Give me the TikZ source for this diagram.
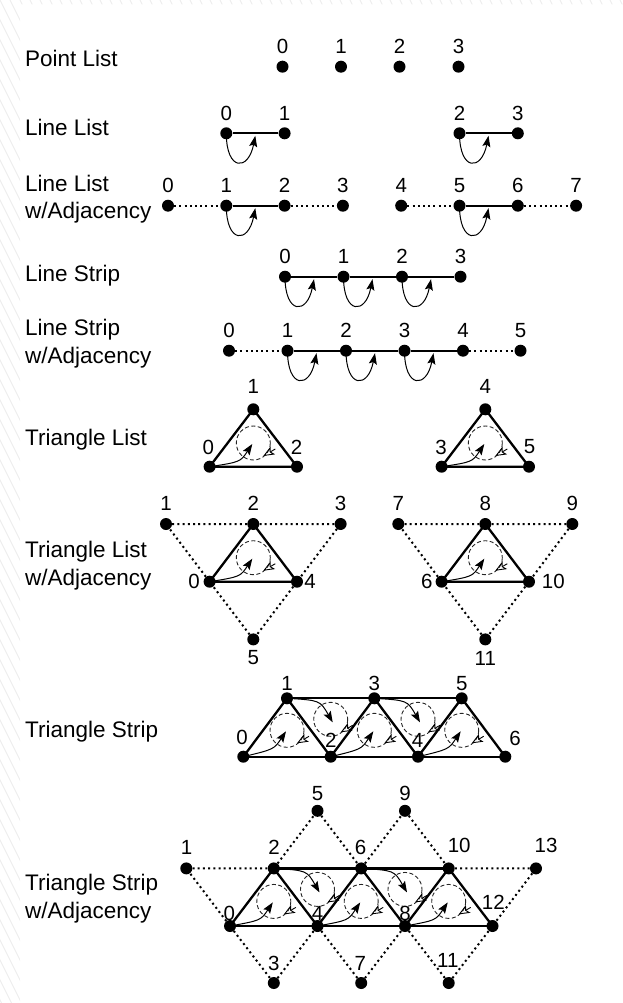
\documentclass[tikz,border=0pt]{standalone}
\usepackage{fontspec}
\setmainfont{Liberation Sans}
\usetikzlibrary{arrows.meta,calc}

\tikzset{
  vtx/.style={circle, fill=black, inner sep=0pt, minimum size=12pt},
  edge/.style={line width=2.3pt},
  adjedge/.style={line width=2pt, dash pattern=on 2pt off 3.2pt},
  looparrow/.style={line width=1pt, -{Stealth[length=11pt,width=8pt,inset=2pt]}},
  windarrow/.style={line width=1pt, -{Stealth[length=11pt,width=8pt,inset=2pt]}},
  windcircle/.style={line width=0.9pt, dash pattern=on 4pt off 2.5pt, black!85},
  windhead/.style={line width=0.9pt, -{Stealth[open,length=11pt,width=9pt,inset=2.5pt]}},
  num/.style={inner sep=0pt, font=\fontsize{20.5}{21}\selectfont},
  title/.style={inner sep=0pt, anchor=north west, align=left, font=\fontsize{22.5}{27.7}\selectfont},
  hatch/.style={line width=1pt, black!7},
}

% curved arrow looping under a line segment, starting at its first vertex
\newcommand\lineloop[1]{%
  \draw[looparrow] (#1.center) .. controls ($(#1)+(0,38)$) and ($(#1)+(22,38)$) .. ($(#1)+(29,2.5)$);}
% dashed winding circle with its open direction head
\newcommand\windring[1]{%
  \draw[windcircle] (#1) circle[radius=17];
  \draw[windhead] ($(#1)+(22,6)$) -- ($(#1)+(10,13)$);}
% winding marker for a triangle whose first vertex is bottom left
\newcommand\lowwind[2]{%
  \windring{#1}
  \draw[windarrow] (#2.center) .. controls ($(#1)+(-13,19)$) .. ($(#1)+(-1,1)$);}
% winding marker for a triangle whose first vertex is top left
\newcommand\upwind[2]{%
  \windring{#1}
  \draw[windarrow] (#2.center) .. controls ($(#2)+(33,2)$) .. ($(#1)+(2,3)$);}

\begin{document}
\begin{tikzpicture}[x=1pt,y=-1pt]
\useasboundingbox (0,0) rectangle (623,1003);

% hatched page edge
\begin{scope}
  \clip (0,0) rectangle (20,1003) (0,0) rectangle (623,4.5);
  \foreach \i in {-520,-510,...,640} \draw[hatch] (\i,0) -- ++(520,1040);
\end{scope}

% row titles
\node[title] (tPL)  at (25,50.3)  {Point List};
\node[title] (tLL)  at (25,118.7) {Line List};
\node[title] (tLLA) at (25,174.5) {Line List\\w/Adjacency};
\node[title] (tLS)  at (25,264.5) {Line Strip};
\node[title] (tLSA) at (25,318.8) {Line Strip\\w/Adjacency};
\node[title] (tTL)  at (25,428.7) {Triangle List};
\node[title] (tTLA) at (25,541)   {Triangle List\\w/Adjacency};
\node[title] (tTS)  at (25,721)   {Triangle Strip};
\node[title] (tTSA) at (25,874)   {Triangle Strip\\w/Adjacency};

% ---------- point list
\foreach \n/\x in {0/282.5,1/341,2/399.5,3/458.5} {
  \node[vtx] (P\n) at (\x,66.7) {};
  \node[num] (P\n-l) at (\x,46.5) {\n};
}

% ---------- line list
\foreach \n/\x in {0/226.3,1/284.6,2/459.5,3/517.8} {
  \node[vtx] (L\n) at (\x,133.3) {};
  \node[num] (L\n-l) at (\x,113) {\n};
}
\draw[edge] (L0) -- (L1);
\draw[edge] (L2) -- (L3);
\lineloop{L0}
\lineloop{L2}

% ---------- line list with adjacency
\foreach \n/\x in {0/168,1/226.3,2/284.6,3/342.9,4/401.2,5/459.5,6/517.8,7/576.1} {
  \node[vtx] (A\n) at (\x,205.7) {};
  \node[num] (A\n-l) at (\x,185.2) {\n};
}
\draw[adjedge] (A0) -- (A1);
\draw[edge] (A1) -- (A2);
\draw[adjedge] (A2) -- (A3);
\draw[adjedge] (A4) -- (A5);
\draw[edge] (A5) -- (A6);
\draw[adjedge] (A6) -- (A7);
\lineloop{A1}
\lineloop{A5}

% ---------- line strip
\foreach \n/\x in {0/285,1/343.5,2/402,3/460.5} {
  \node[vtx] (S\n) at (\x,276.7) {};
  \node[num] (S\n-l) at (\x,256.2) {\n};
}
\draw[edge] (S0) -- (S1) -- (S2) -- (S3);
\lineloop{S0}
\lineloop{S1}
\lineloop{S2}

% ---------- line strip with adjacency
\foreach \n/\x in {0/229,1/287.5,2/346,3/404.5,4/463,5/520.5} {
  \node[vtx] (B\n) at (\x,350.7) {};
  \node[num] (B\n-l) at (\x,330.2) {\n};
}
\draw[adjedge] (B0) -- (B1);
\draw[edge] (B1) -- (B2) -- (B3) -- (B4);
\draw[adjedge] (B4) -- (B5);
\lineloop{B1}
\lineloop{B2}
\lineloop{B3}

% ---------- triangle list
\node[vtx] (T0) at (209.6,466.7) {};
\node[vtx] (T1) at (253.3,409.3) {};
\node[vtx] (T2) at (297,466.7) {};
\node[vtx] (T3) at (441.6,466.7) {};
\node[vtx] (T4) at (485.3,409.3) {};
\node[vtx] (T5) at (529,466.7) {};
\draw[edge] (T0.center) -- (T1.center) -- (T2.center) -- cycle;
\draw[edge] (T3.center) -- (T4.center) -- (T5.center) -- cycle;
\coordinate (tc1) at ($(T1)+(0,33.7)$);
\coordinate (tc2) at ($(T4)+(0,33.7)$);
\lowwind{tc1}{T0}
\lowwind{tc2}{T3}
\node[num] (T1-l) at (253.3,386.7) {1};
\node[num] (T4-l) at (485.3,386.7) {4};
\node[num] (T0-l) at (208.3,447) {0};
\node[num] (T2-l) at (296.5,447) {2};
\node[num] (T3-l) at (441,447) {3};
\node[num] (T5-l) at (529.5,447) {5};

% ---------- triangle list with adjacency
\node[vtx] (Q0) at (209.6,581.7) {};
\node[vtx] (Q1) at (166,524) {};
\node[vtx] (Q2) at (253.3,524) {};
\node[vtx] (Q3) at (340.6,524) {};
\node[vtx] (Q4) at (297,581.7) {};
\node[vtx] (Q5) at (253.3,639.4) {};
\node[vtx] (Q6) at (441.6,581.7) {};
\node[vtx] (Q7) at (398.3,524) {};
\node[vtx] (Q8) at (485.3,524) {};
\node[vtx] (Q9) at (572.3,524) {};
\node[vtx] (Q10) at (529,581.7) {};
\node[vtx] (Q11) at (485.3,639.4) {};
\draw[adjedge] (Q1) -- (Q2) -- (Q3) -- (Q4) -- (Q5) -- (Q0) -- (Q1);
\draw[adjedge] (Q7) -- (Q8) -- (Q9) -- (Q10) -- (Q11) -- (Q6) -- (Q7);
\draw[edge] (Q0.center) -- (Q2.center) -- (Q4.center) -- cycle;
\draw[edge] (Q6.center) -- (Q8.center) -- (Q10.center) -- cycle;
\coordinate (qc1) at ($(Q2)+(0,33.7)$);
\coordinate (qc2) at ($(Q8)+(0,33.7)$);
\lowwind{qc1}{Q0}
\lowwind{qc2}{Q6}
\node[num] (Q1-l) at (166,503.7) {1};
\node[num] (Q2-l) at (253.3,503.7) {2};
\node[num] (Q3-l) at (340.6,503.7) {3};
\node[num] (Q7-l) at (398.3,503.7) {7};
\node[num] (Q8-l) at (485.3,503.7) {8};
\node[num] (Q9-l) at (572.3,503.7) {9};
\node[num] (Q0-l) at (194,581.7) {0};
\node[num] (Q4-l) at (310,581.7) {4};
\node[num] (Q6-l) at (426.7,581.7) {6};
\node[num] (Q10-l) at (553.3,581.7) {10};
\node[num] (Q5-l) at (253.3,658) {5};
\node[num] (Q11-l) at (485.3,658) {11};

% ---------- triangle strip
\node[vtx] (X0) at (243.3,756.7) {};
\node[vtx] (X1) at (287,698.3) {};
\node[vtx] (X2) at (330.7,756.7) {};
\node[vtx] (X3) at (374.3,698.3) {};
\node[vtx] (X4) at (418,756.7) {};
\node[vtx] (X5) at (461.7,698.3) {};
\node[vtx] (X6) at (505.3,756.7) {};
\draw[edge] (X1.center) -- (X3.center) -- (X5.center);
\draw[edge] (X0.center) -- (X2.center) -- (X4.center) -- (X6.center);
\draw[edge] (X0.center) -- (X1.center) -- (X2.center) -- (X3.center) -- (X4.center) -- (X5.center) -- (X6.center);
\coordinate (xl1) at ($(X1)+(0,32)$);
\coordinate (xl2) at ($(X3)+(0,32)$);
\coordinate (xl3) at ($(X5)+(0,32)$);
\coordinate (xu1) at ($(X2)+(0,-37.4)$);
\coordinate (xu2) at ($(X4)+(0,-37.4)$);
\lowwind{xl1}{X0}
\lowwind{xl2}{X2}
\lowwind{xl3}{X4}
\upwind{xu1}{X1}
\upwind{xu2}{X3}
\node[num] (X1-l) at (287,683.7) {1};
\node[num] (X3-l) at (374.3,683.7) {3};
\node[num] (X5-l) at (461.7,683.7) {5};
\node[num] (X0-l) at (242,737.5) {0};
\node[num] (X2-l) at (330.8,740.7) {2};
\node[num] (X4-l) at (417.5,740.7) {4};
\node[num] (X6-l) at (515,738.8) {6};

% ---------- triangle strip with adjacency
\node[vtx] (Y5) at (317.5,810.8) {};
\node[vtx] (Y9) at (405,810.8) {};
\node[vtx] (Y1) at (186.3,868.4) {};
\node[vtx] (Y2) at (273.8,868.4) {};
\node[vtx] (Y6) at (361.2,868.4) {};
\node[vtx] (Y10) at (448.7,868.4) {};
\node[vtx] (Y13) at (536,868.4) {};
\node[vtx] (Y0) at (230,926) {};
\node[vtx] (Y4) at (317.5,926) {};
\node[vtx] (Y8) at (405,926) {};
\node[vtx] (Y12) at (492.5,926) {};
\node[vtx] (Y3) at (273.8,983) {};
\node[vtx] (Y7) at (361.2,983) {};
\node[vtx] (Y11) at (448.7,983) {};
\draw[adjedge] (Y0) -- (Y1) -- (Y2);
\draw[adjedge] (Y10) -- (Y13) -- (Y12);
\draw[adjedge] (Y2) -- (Y5) -- (Y6) -- (Y9) -- (Y10);
\draw[adjedge] (Y0) -- (Y3) -- (Y4) -- (Y7) -- (Y8) -- (Y11) -- (Y12);
\draw[edge] (Y2.center) -- (Y6.center) -- (Y10.center);
\draw[edge] (Y0.center) -- (Y4.center) -- (Y8.center) -- (Y12.center);
\draw[edge] (Y0.center) -- (Y2.center) -- (Y4.center) -- (Y6.center) -- (Y8.center) -- (Y10.center) -- (Y12.center);
\coordinate (yl1) at ($(Y2)+(0,33)$);
\coordinate (yl2) at ($(Y6)+(0,33)$);
\coordinate (yl3) at ($(Y10)+(0,33)$);
\coordinate (yu1) at ($(Y4)+(0,-36.6)$);
\coordinate (yu2) at ($(Y8)+(0,-36.6)$);
\lowwind{yl1}{Y0}
\lowwind{yl2}{Y4}
\lowwind{yl3}{Y8}
\upwind{yu1}{Y2}
\upwind{yu2}{Y6}
\node[num] (Y5-l) at (317.5,793.3) {5};
\node[num] (Y9-l) at (405,793.3) {9};
\node[num] (Y1-l) at (186.5,847.5) {1};
\node[num] (Y2-l) at (274,847.5) {2};
\node[num] (Y6-l) at (360.5,847.5) {6};
\node[num] (Y10-l) at (459.2,845.8) {10};
\node[num] (Y13-l) at (546,845.8) {13};
\node[num] (Y0-l) at (229.2,913) {0};
\node[num] (Y4-l) at (317.5,913) {4};
\node[num] (Y8-l) at (405,913) {8};
\node[num] (Y12-l) at (493.3,902.5) {12};
\node[num] (Y3-l) at (273.7,963.8) {3};
\node[num] (Y7-l) at (360.3,963.8) {7};
\node[num] (Y11-l) at (447.8,960.8) {11};
\end{tikzpicture}
\end{document}
